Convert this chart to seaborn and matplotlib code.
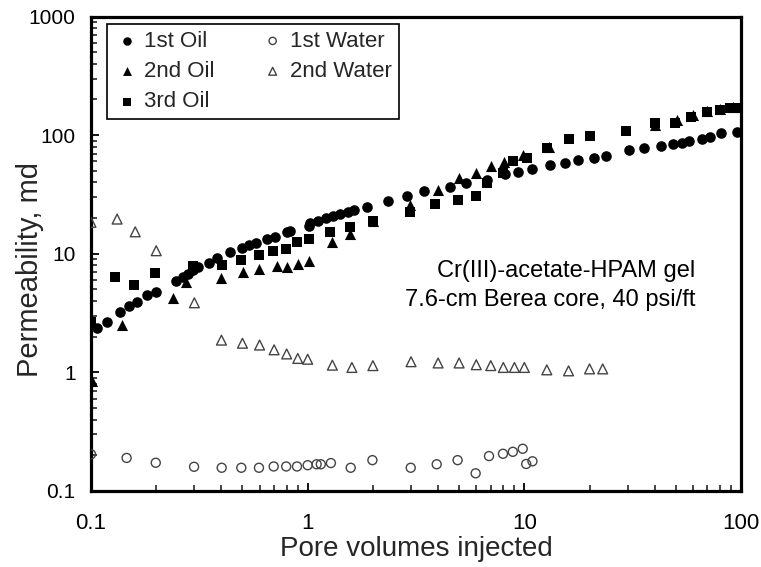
import matplotlib
matplotlib.use("Agg")
import matplotlib.pyplot as plt
import seaborn as sns
from matplotlib.ticker import LogLocator, FixedLocator, NullFormatter

# ---------------- data ----------------
oil1_x = [0.107, 0.118, 0.136, 0.150, 0.163, 0.181, 0.200, 0.248, 0.267, 0.281, 0.296, 0.313,
          0.352, 0.380, 0.438, 0.499, 0.537, 0.575, 0.647, 0.707, 0.800, 0.828, 1.01, 1.02,
          1.12, 1.22, 1.31, 1.41, 1.54, 1.64, 1.87, 2.35, 2.88, 3.45, 4.54, 5.38, 6.70, 8.15,
          9.38, 10.8, 13.2, 15.4, 17.6, 20.9, 23.7, 30.5, 35.7, 42.7, 48.3, 53.2, 57.5, 65.8,
          71.9, 80.6, 95.5]
oil1_y = [2.38, 2.64, 3.21, 3.65, 3.89, 4.48, 4.79, 5.89, 6.32, 6.75, 7.29, 7.68,
          8.40, 9.15, 10.3, 11.1, 11.8, 12.4, 13.2, 13.9, 15.3, 15.6, 17.2, 18.0,
          18.9, 19.9, 20.8, 21.6, 22.6, 23.4, 24.9, 28.0, 30.7, 33.8, 36.8, 39.3, 41.8, 47.0,
          49.1, 51.5, 56.0, 58.5, 61.3, 63.7, 66.6, 74.9, 77.4, 80.9, 83.6, 86.3, 88.7, 92.7,
          95.8, 103.5, 106.9]

oil2_x = [0.101, 0.139, 0.238, 0.274, 0.398, 0.504, 0.598, 0.720, 0.805, 0.905, 1.01,
          1.29, 1.57, 2.0, 2.97, 4.0, 5.0, 5.98, 6.99, 8.05, 9.89, 13.0, 40.1, 50.4, 59.8,
          69.4, 79.9, 92.1, 100.0]
oil2_y = [0.85, 2.50, 4.21, 5.80, 6.28, 7.05, 7.38, 7.87, 7.77, 8.19, 8.73,
          12.6, 14.6, 18.9, 25.8, 34.4, 43.2, 48.2, 55.2, 59.7, 68.0, 78.9, 121.6, 134, 147.5,
          159.5, 166, 173.5, 173]

oil3_x = [0.100, 0.129, 0.158, 0.197, 0.296, 0.401, 0.495, 0.598, 0.694, 0.794, 0.896, 1.01,
          1.27, 1.57, 2.0, 2.97, 3.87, 4.95, 5.96, 6.70, 7.95, 8.9, 10.3, 12.7, 16.0, 20.0,
          29.6, 40.1, 49.5, 58.5, 69.4, 79.9, 88.9, 98.0]
oil3_y = [2.67, 6.32, 5.48, 6.83, 7.88, 8.03, 8.85, 9.75, 10.5, 11.0, 12.6, 13.2,
          15.3, 16.9, 18.9, 22.6, 26.2, 28.4, 30.7, 39.3, 47.7, 60.5, 64.7, 77.4, 92.3, 98.2,
          109, 127, 126, 143, 156, 163, 170, 170]

wat1_x = [0.100, 0.146, 0.199, 0.299, 0.401, 0.494, 0.596, 0.697, 0.796, 0.893, 1.0, 1.1,
          1.15, 1.28, 1.58, 1.99, 2.99, 3.94, 4.92, 5.96, 6.87, 7.97, 8.85, 9.83, 10.2, 10.9]
wat1_y = [0.204, 0.190, 0.173, 0.160, 0.157, 0.157, 0.157, 0.161, 0.161, 0.161, 0.165, 0.168,
          0.168, 0.172, 0.157, 0.182, 0.157, 0.168, 0.182, 0.141, 0.197, 0.206, 0.214, 0.227,
          0.169, 0.178]

wat2_x = [0.100, 0.132, 0.160, 0.200, 0.300, 0.400, 0.500, 0.600, 0.700, 0.800, 0.900, 1.0,
          1.30, 1.60, 2.0, 3.0, 4.0, 5.0, 6.0, 7.0, 8.0, 9.0, 10.0, 12.7, 16.0, 20.0, 23.0]
wat2_y = [18.4, 19.6, 15.3, 10.6, 3.86, 1.87, 1.76, 1.70, 1.55, 1.43, 1.31, 1.29,
          1.15, 1.10, 1.14, 1.23, 1.20, 1.20, 1.16, 1.14, 1.10, 1.10, 1.10, 1.05, 1.03, 1.07, 1.07]

x_ticks = [0.1, 1, 10, 100]
x_tick_labels = ["0.1", "1", "10", "100"]
y_ticks = [0.1, 1, 10, 100, 1000]
y_tick_labels = ["0.1", "1", "10", "100", "1000"]

labels = ["1st Oil", "2nd Oil", "3rd Oil", "1st Water", "2nd Water"]
x_label = "Pore volumes injected"
y_label = "Permeability, md"
note = "Cr(III)-acetate-HPAM gel\n7.6-cm Berea core, 40 psi/ft"

# ---------------- style ----------------
sns.set_style("ticks")
plt.rcParams["font.family"] = ["Liberation Sans", "DejaVu Sans"]

fig = plt.figure(figsize=(7.61, 5.67), dpi=100)
ax = fig.add_axes([91 / 761, 1 - 491 / 567, 650 / 761, 474.5 / 567])

dark = "#444444"
sns.scatterplot(x=oil1_x, y=oil1_y, ax=ax, marker="o", color="black", edgecolor="black",
                s=58, linewidth=0, label=labels[0], zorder=3)
sns.scatterplot(x=oil2_x, y=oil2_y, ax=ax, marker="^", color="black", edgecolor="black",
                s=64, linewidth=0, label=labels[1], zorder=3)
sns.scatterplot(x=oil3_x, y=oil3_y, ax=ax, marker="s", color="black", edgecolor="black",
                s=50, linewidth=0, label=labels[2], zorder=3)
sns.scatterplot(x=wat1_x, y=wat1_y, ax=ax, marker="o", color=dark, facecolor="none",
                edgecolor=dark, s=42, linewidth=1.0, label=labels[3], zorder=3)
sns.scatterplot(x=wat2_x, y=wat2_y, ax=ax, marker="^", color=dark, facecolor="none",
                edgecolor=dark, s=50, linewidth=1.0, label=labels[4], zorder=3)

ax.set_xscale("log")
ax.set_yscale("log")
ax.set_xlim(0.1, 100)
ax.set_ylim(0.1, 1000)

ax.xaxis.set_major_locator(FixedLocator(x_ticks))
ax.set_xticklabels(x_tick_labels)
ax.yaxis.set_major_locator(FixedLocator(y_ticks))
ax.set_yticklabels(y_tick_labels)
ax.xaxis.set_minor_locator(LogLocator(base=10, subs=range(2, 10), numticks=20))
ax.yaxis.set_minor_locator(LogLocator(base=10, subs=range(2, 10), numticks=20))
ax.xaxis.set_minor_formatter(NullFormatter())
ax.yaxis.set_minor_formatter(NullFormatter())

ax.tick_params(axis="both", which="major", direction="in", length=6, width=1.3,
               color="black", labelcolor="black", top=False, right=False)
ax.tick_params(axis="both", which="minor", direction="in", length=4.5, width=1.2,
               top=False, right=False)
ax.tick_params(axis="x", which="major", pad=16, labelsize=16)
ax.tick_params(axis="y", which="major", pad=11, labelsize=15)

for sp in ax.spines.values():
    sp.set_visible(True)
    sp.set_linewidth(2.3)
    sp.set_color("black")

ax.set_xlabel(x_label, fontsize=20, labelpad=1)
ax.set_ylabel(y_label, fontsize=21)
ax.yaxis.set_label_coords(-0.072, 0.466)

ax.text(0.93, 0.487, note, transform=ax.transAxes, ha="right", va="top",
        fontsize=17, linespacing=1.4, color="black")

handles, lbls = ax.get_legend_handles_labels()
leg = ax.legend(handles, lbls, ncol=2, loc="upper left", bbox_to_anchor=(0.024, 0.984),
                borderaxespad=0, fontsize=16, frameon=True, fancybox=False,
                edgecolor="black", framealpha=1, handlelength=1.2, handletextpad=0.2,
                labelspacing=0.42, columnspacing=2.0, borderpad=0.3, markerscale=0.8)
leg.get_frame().set_linewidth(1.2)

fig.savefig("out.png", dpi=100)
